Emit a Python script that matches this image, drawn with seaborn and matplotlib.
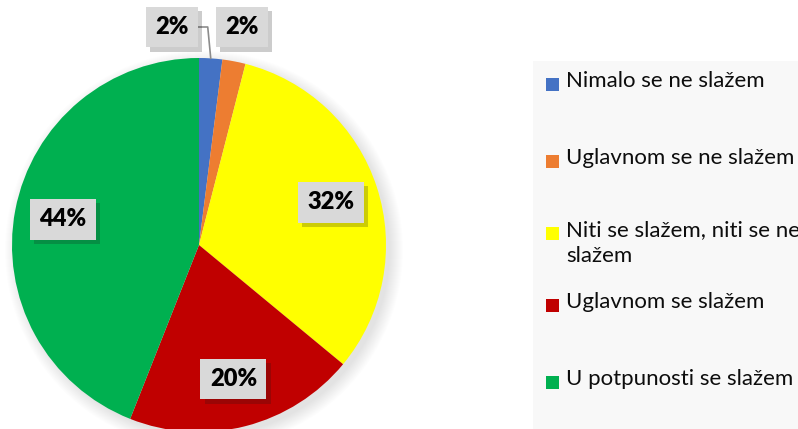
import numpy as np
import matplotlib.pyplot as plt
import matplotlib.patheffects as pe
from matplotlib.patches import Rectangle, Circle
import seaborn as sns

# data
categories = ['Nimalo se ne slažem', 'Uglavnom se ne slažem',
              'Niti se slažem, niti se ne\nslažem', 'Uglavnom se slažem',
              'U potpunosti se slažem']
shares = [2, 2, 32, 20, 44]
colors = ['#4472C4', '#ED7D31', '#FFFF00', '#C00000', '#00B050']

sns.set_theme(style='white')
plt.rcParams['font.family'] = ['Lato', 'DejaVu Sans']

W, H = 798, 429
fig = plt.figure(figsize=(W / 100, H / 100), dpi=100)
ax = fig.add_axes([0, 0, 1, 1])
cx, cy, r = 199, H - 245, 187

# soft shadow behind the pie
for k in range(14):
    ax.add_patch(Circle((cx + 5, cy - 5), r + 12 - k, color='k', alpha=0.009, lw=0, zorder=0))

wedges, texts, autotexts = ax.pie(
    shares, colors=sns.color_palette(colors), startangle=90, counterclock=False,
    radius=r, center=(cx, cy), autopct='%.0f%%', pctdistance=0.74,
    wedgeprops=dict(linewidth=0), textprops=dict(fontsize=17, fontweight='heavy', color='black'))

# small slices get their labels above the pie
autotexts[0].set_position((172, H - 27))
autotexts[1].set_position((242, H - 27))
w0 = wedges[0]
mid = np.deg2rad((w0.theta1 + w0.theta2) / 2)
ex, ey = cx + r * np.cos(mid), cy + r * np.sin(mid)
ax.plot([198, ex - 3, ex], [H - 27, H - 27, ey], color='#8c8c8c', lw=1.2, zorder=1)

for t in autotexts:
    t.set_bbox(dict(boxstyle='square,pad=0.4', fc='#D9D9D9', ec='none'))
    t.get_bbox_patch().set_path_effects([
        pe.SimplePatchShadow(offset=(3, -3), shadow_rgbFace='k', alpha=0.22), pe.Normal()])

# legend panel
ax.add_patch(Rectangle((533, 0), W - 533, H - 61, fc='#F8F8F8', lw=0, zorder=0))
rows = [84, 161, 233, 305, 382]
for lab, col, y in zip(categories, colors, rows):
    ax.add_patch(Rectangle((546, H - y - 6.5), 13, 13, fc=col, lw=0, zorder=2))
    ax.text(566, H - y + 13, lab, fontsize=16, va='top', ha='left',
            color='#0d0d0d', linespacing=1.4)

ax.set_xlim(0, W)
ax.set_ylim(0, H)
ax.axis('off')
fig.savefig('out.png', dpi=100)
